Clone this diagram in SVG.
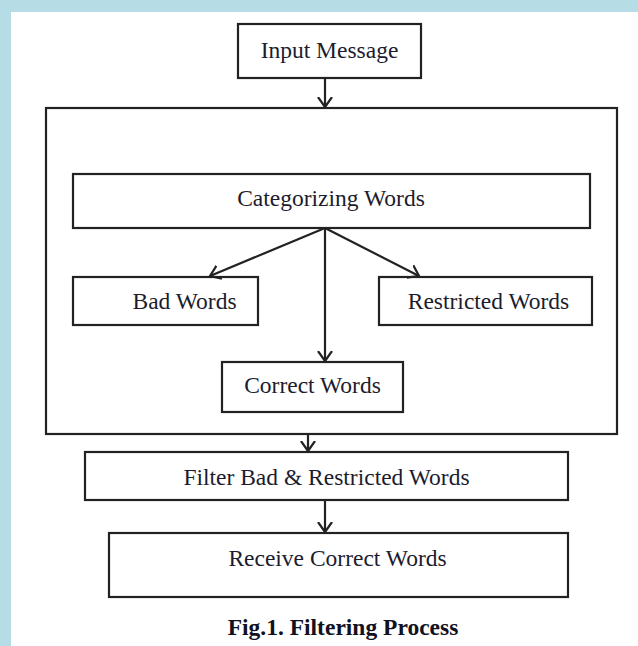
<svg xmlns="http://www.w3.org/2000/svg" width="638" height="646" viewBox="0 0 638 646">
  <style>
    .box { fill: #ffffff; stroke: #222222; stroke-width: 2.2; }
    .lbl { font-family: "Liberation Serif", "Times New Roman", serif; font-size: 23.5px; fill: #1c1c2e; text-anchor: middle; }
    .cap { font-family: "Liberation Serif", "Times New Roman", serif; font-size: 23.5px; font-weight: bold; fill: #111122; text-anchor: middle; }
    .con { fill: none; stroke: #222222; stroke-width: 2.2; }
  </style>
  <defs>
    <marker id="arr" markerUnits="userSpaceOnUse" markerWidth="20" markerHeight="20" viewBox="-10 -10 20 20" refX="0" refY="0" orient="auto">
      <path d="M-10,-7 L0,0 L-10,7" fill="none" stroke="#222222" stroke-width="2.2"/>
    </marker>
  </defs>
  <rect x="0" y="0" width="638" height="646" fill="#b6dce5"/>
  <rect x="11" y="12" width="627" height="634" fill="#ffffff"/>

  <g id="input-message">
    <rect class="box" x="238" y="24" width="183" height="54"/>
    <text class="lbl" x="329.5" y="58">Input Message</text>
  </g>
  <g id="filter-group">
    <rect class="box" x="46" y="108" width="571" height="326"/>
  </g>
  <g id="categorizing-words">
    <rect class="box" x="73" y="174" width="517" height="54"/>
    <text class="lbl" x="331" y="206">Categorizing Words</text>
  </g>
  <g id="bad-words">
    <rect class="box" x="73" y="277" width="185" height="48"/>
    <text class="lbl" x="184.5" y="309">Bad Words</text>
  </g>
  <g id="restricted-words">
    <rect class="box" x="379" y="277" width="213" height="48"/>
    <text class="lbl" x="488.5" y="309">Restricted Words</text>
  </g>
  <g id="correct-words">
    <rect class="box" x="222" y="362" width="181" height="50"/>
    <text class="lbl" x="312.5" y="393">Correct Words</text>
  </g>
  <g id="filter-words">
    <rect class="box" x="85" y="452" width="483" height="48"/>
    <text class="lbl" x="326.5" y="485">Filter Bad &amp; Restricted Words</text>
  </g>
  <g id="receive-correct-words">
    <rect class="box" x="109" y="533" width="459" height="64"/>
    <text class="lbl" x="337.5" y="566">Receive Correct Words</text>
  </g>
  <g id="connectors">
    <line class="con" x1="325" y1="78" x2="325" y2="107" marker-end="url(#arr)"/>
    <line class="con" x1="325" y1="228" x2="210" y2="276" marker-end="url(#arr)"/>
    <line class="con" x1="325" y1="228" x2="419" y2="276" marker-end="url(#arr)"/>
    <line class="con" x1="325" y1="228" x2="325" y2="361" marker-end="url(#arr)"/>
    <line class="con" x1="308" y1="434" x2="308" y2="451" marker-end="url(#arr)"/>
    <line class="con" x1="325" y1="500" x2="325" y2="532" marker-end="url(#arr)"/>
  </g>
  <text class="cap" x="343" y="635">Fig.1. Filtering Process</text>
</svg>
